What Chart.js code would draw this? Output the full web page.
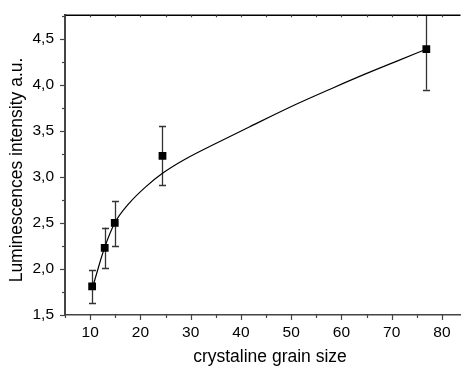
<!DOCTYPE html>
<html>
<head>
<meta charset="utf-8">
<script src="https://cdn.jsdelivr.net/npm/chart.js@4/dist/chart.umd.min.js"></script>
<style>
  html, body { margin: 0; padding: 0; background: #fff; overflow: hidden; }
  #wrap { width: 466px; height: 370px; }
</style>
</head>
<body>
<div id="wrap"><canvas id="c" width="466" height="370"></canvas></div>
<script>
// Measured data points
const grainSize = [10.4, 12.9, 14.9, 24.4, 76.9];
const intensity = [1.81, 2.23, 2.50, 3.23, 4.39];
const errLow    = [1.63, 2.01, 2.25, 2.91, 3.95];
const errHigh   = [1.99, 2.45, 2.74, 3.55, 4.83];

// Fit curve
const fitX = [10.7, 12.8, 14.9, 17.7, 21.0, 24.4, 28.8, 35.4, 41.9, 51.0, 58.2, 64.8, 71.3, 76.5];
const fitY = [1.84, 2.22, 2.50, 2.71, 2.89, 3.04, 3.19, 3.375, 3.55, 3.79, 3.965, 4.12, 4.265, 4.38];

// Tick values
const xTicks = [5, 10, 15, 20, 25, 30, 35, 40, 45, 50, 55, 60, 65, 70, 75, 80];
const xLabelTicks = [10, 20, 30, 40, 50, 60, 70, 80];
const yTicks = [1.5, 1.75, 2.0, 2.25, 2.5, 2.75, 3.0, 3.25, 3.5, 3.75, 4.0, 4.25, 4.5, 4.75];
const yLabelTicks = [1.5, 2.0, 2.5, 3.0, 3.5, 4.0, 4.5];

const xTitle = 'crystaline grain size';
const yTitle = 'Luminescences intensity a.u.';

const FAMILY = "'Liberation Sans', Arial, sans-serif";
const TICK_FONT = { family: FAMILY, size: 15.5 };
const TITLE_FONT = { family: FAMILY, size: 17.5 };

const isLabelX = v => xLabelTicks.some(t => Math.abs(t - v) < 1e-6);
const isLabelY = v => yLabelTicks.some(t => Math.abs(t - v) < 1e-6);

const extras = {
  id: 'extras',
  beforeDatasetsDraw(chart) {
    const { ctx, chartArea: a, scales: { x, y } } = chart;
    ctx.save();
    ctx.beginPath();
    ctx.rect(a.left, a.top, a.right - a.left, a.bottom - a.top);
    ctx.clip();
    ctx.strokeStyle = '#333';
    ctx.lineWidth = 1.3;
    for (let i = 0; i < grainSize.length; i++) {
      const px = Math.round(x.getPixelForValue(grainSize[i])) + 0.5;
      const yl = y.getPixelForValue(errLow[i]);
      const yh = y.getPixelForValue(errHigh[i]);
      ctx.beginPath();
      ctx.moveTo(px, yl); ctx.lineTo(px, yh);
      ctx.moveTo(px - 3.5, Math.round(yl) + 0.5); ctx.lineTo(px + 3.5, Math.round(yl) + 0.5);
      ctx.moveTo(px - 3.5, Math.round(yh) + 0.5); ctx.lineTo(px + 3.5, Math.round(yh) + 0.5);
      ctx.stroke();
    }
    ctx.restore();
  },
  afterDraw(chart) {
    const { ctx, chartArea: a, scales: { x, y } } = chart;
    ctx.save();
    // top axis line
    ctx.strokeStyle = '#000';
    ctx.lineWidth = 1.5;
    ctx.beginPath();
    ctx.moveTo(a.left, a.top); ctx.lineTo(a.right, a.top);
    ctx.stroke();
    // bottom ticks
    ctx.strokeStyle = '#444';
    ctx.lineWidth = 1.2;
    xTicks.forEach(v => {
      const px = Math.round(x.getPixelForValue(v)) + 0.5;
      const len = isLabelX(v) ? 5 : 3;
      ctx.beginPath();
      ctx.moveTo(px, a.bottom); ctx.lineTo(px, a.bottom + len);
      ctx.stroke();
      ctx.beginPath();
      ctx.moveTo(px, a.top); ctx.lineTo(px, a.top + 2);
      ctx.stroke();
    });
    // left ticks
    yTicks.forEach(v => {
      const py = Math.round(y.getPixelForValue(v)) + 0.5;
      const len = isLabelY(v) ? 5 : 3;
      ctx.beginPath();
      ctx.moveTo(a.left, py); ctx.lineTo(a.left - len, py);
      ctx.stroke();
    });
    // axis titles
    ctx.fillStyle = '#000';
    ctx.font = TITLE_FONT.size + 'px ' + FAMILY;
    ctx.textAlign = 'center';
    ctx.textBaseline = 'middle';
    ctx.fillText(xTitle, 270, 357);
    ctx.translate(17, 170);
    ctx.rotate(-Math.PI / 2);
    ctx.fillText(yTitle, 0, 0);
    ctx.restore();
  }
};

new Chart(document.getElementById('c'), {
  type: 'scatter',
  data: {
    datasets: [
      {
        label: 'fit',
        data: fitX.map((v, i) => ({ x: v, y: fitY[i] })),
        showLine: true,
        borderColor: '#000',
        borderWidth: 1.2,
        pointRadius: 0,
        cubicInterpolationMode: 'monotone',
        fill: false
      },
      {
        label: 'data',
        data: grainSize.map((v, i) => ({ x: v, y: intensity[i] })),
        pointStyle: 'rect',
        pointRadius: 5.5,
        backgroundColor: '#000',
        borderColor: '#000',
        borderWidth: 0,
        showLine: false
      }
    ]
  },
  options: {
    responsive: false,
    animation: false,
    events: [],
    layout: { padding: { top: 11, right: 0, left: 0, bottom: 0 } },
    plugins: { legend: { display: false }, tooltip: { enabled: false } },
    scales: {
      x: {
        type: 'linear',
        min: 5,
        max: 83.7,
        afterBuildTicks: s => { s.ticks = xTicks.map(v => ({ value: v })); },
        afterFit: s => { s.height = 55; },
        grid: { display: true, drawOnChartArea: false, drawTicks: true, tickLength: 5, color: 'rgba(0,0,0,0)', tickColor: 'rgba(0,0,0,0)' },
        border: { display: true, color: '#444', width: 1.5 },
        ticks: {
          autoSkip: false, maxRotation: 0, padding: 3, color: '#000', font: TICK_FONT,
          callback: v => isLabelX(v) ? String(v) : ''
        },
        title: { display: false }
      },
      y: {
        type: 'linear',
        min: 1.5,
        max: 4.757,
        afterBuildTicks: s => { s.ticks = yTicks.map(v => ({ value: v })); },
        afterFit: s => { s.width = 65; },
        grid: { display: true, drawOnChartArea: false, drawTicks: true, tickLength: 5, color: 'rgba(0,0,0,0)', tickColor: 'rgba(0,0,0,0)' },
        border: { display: true, color: '#444', width: 2 },
        ticks: {
          autoSkip: false, padding: 6, color: '#000', font: TICK_FONT,
          callback: v => isLabelY(v) ? v.toFixed(1).replace('.', ',') : ''
        },
        title: { display: false }
      }
    }
  },
  plugins: [extras]
});
</script>
</body>
</html>
